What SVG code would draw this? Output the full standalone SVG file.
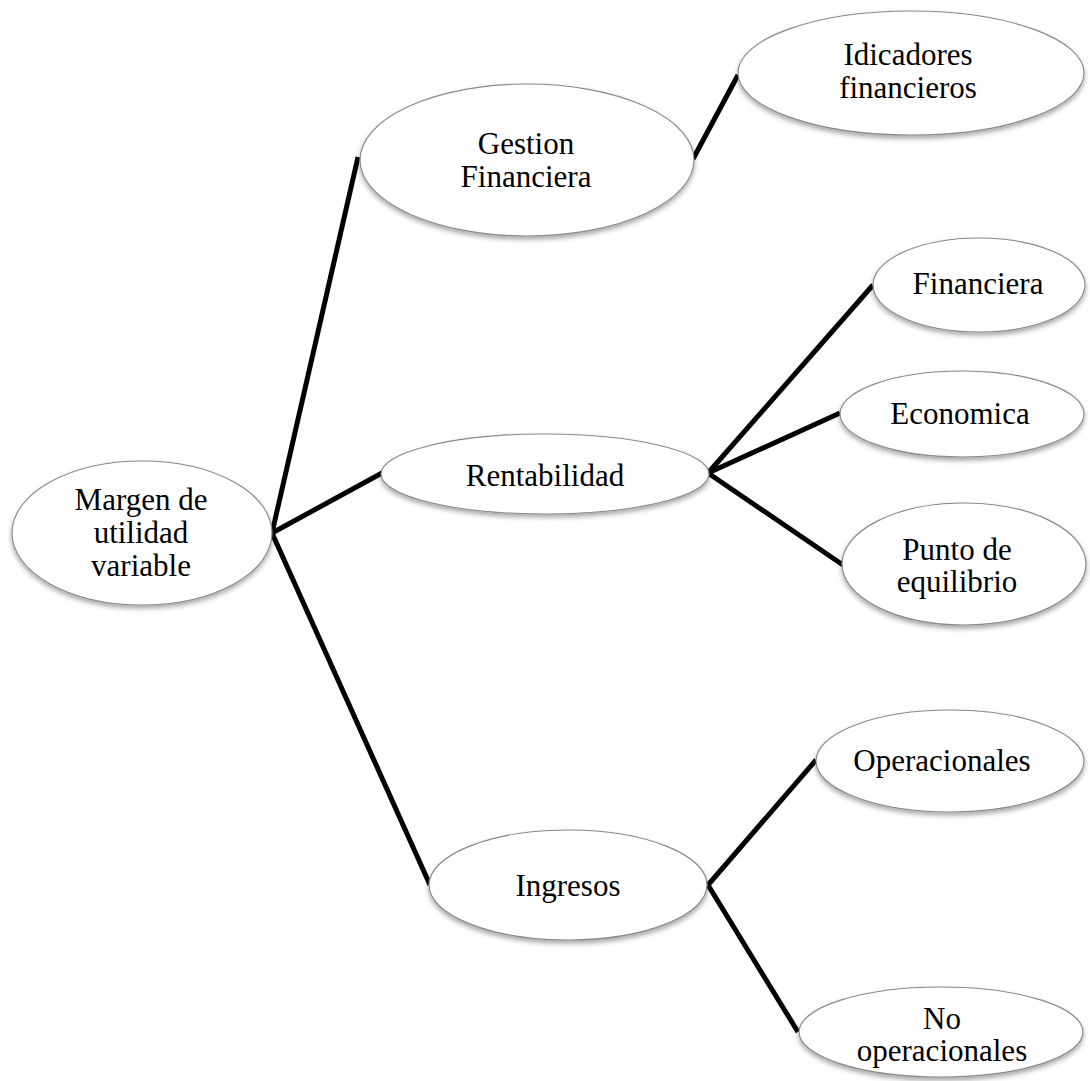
<svg xmlns="http://www.w3.org/2000/svg" width="1090" height="1081" viewBox="0 0 1090 1081">
  <style>
    .node ellipse { fill: #ffffff; stroke: #8a8a8a; stroke-width: 1.2; filter: url(#shadow); }
    .node text { font-family: "Liberation Serif", "Times New Roman", serif; font-size: 31px; fill: #000; text-anchor: middle; }
    #connectors line { stroke: #000; stroke-width: 5; stroke-linecap: butt; }
  </style>
  <defs>
    <!-- soft shadow under each bubble -->
    <filter id="shadow" x="-10%" y="-15%" width="120%" height="140%">
      <feDropShadow dx="0" dy="3" stdDeviation="2.5" flood-color="#000" flood-opacity="0.35"/>
    </filter>
  </defs>
  <rect width="1090" height="1081" fill="#ffffff"/>

  <g id="connectors">
    <line x1="272" y1="533" x2="358" y2="157"/>
    <line x1="272" y1="533" x2="382" y2="473"/>
    <line x1="272" y1="533" x2="430" y2="885"/>
    <line x1="693" y1="159" x2="738" y2="75"/>
    <line x1="708" y1="473" x2="873" y2="285"/>
    <line x1="708" y1="473" x2="840" y2="413"/>
    <line x1="708" y1="473" x2="843" y2="565"/>
    <line x1="708" y1="885" x2="816" y2="760"/>
    <line x1="708" y1="885" x2="798" y2="1032"/>
  </g>

  <g id="node-margen" class="node">
    <ellipse cx="142" cy="533" rx="130" ry="72"/>
    <text x="141" y="510">Margen de</text>
    <text x="141" y="543">utilidad</text>
    <text x="141" y="576">variable</text>
  </g>

  <g id="node-gestion" class="node">
    <ellipse cx="527" cy="160" rx="167" ry="76"/>
    <text x="526" y="154">Gestion</text>
    <text x="526" y="187">Financiera</text>
  </g>

  <g id="node-idicadores" class="node">
    <ellipse cx="911" cy="73" rx="173" ry="62"/>
    <text x="908" y="65">Idicadores</text>
    <text x="908" y="98">financieros</text>
  </g>

  <g id="node-rentabilidad" class="node">
    <ellipse cx="545" cy="474" rx="164" ry="40"/>
    <text x="545" y="486">Rentabilidad</text>
  </g>

  <g id="node-financiera" class="node">
    <ellipse cx="979" cy="285" rx="106" ry="47"/>
    <text x="978" y="294">Financiera</text>
  </g>

  <g id="node-economica" class="node">
    <ellipse cx="962" cy="414" rx="122" ry="43"/>
    <text x="960" y="424">Economica</text>
  </g>

  <g id="node-punto" class="node">
    <ellipse cx="964" cy="564" rx="122" ry="61"/>
    <text x="957" y="560">Punto de</text>
    <text x="957" y="592">equilibrio</text>
  </g>

  <g id="node-ingresos" class="node">
    <ellipse cx="568" cy="885" rx="139" ry="55"/>
    <text x="568" y="896">Ingresos</text>
  </g>

  <g id="node-operacionales" class="node">
    <ellipse cx="950" cy="761" rx="134" ry="51"/>
    <text x="942" y="771">Operacionales</text>
  </g>

  <g id="node-no-operacionales" class="node">
    <ellipse cx="941" cy="1032" rx="142" ry="45"/>
    <text x="942" y="1029">No</text>
    <text x="942" y="1061">operacionales</text>
  </g>
</svg>
